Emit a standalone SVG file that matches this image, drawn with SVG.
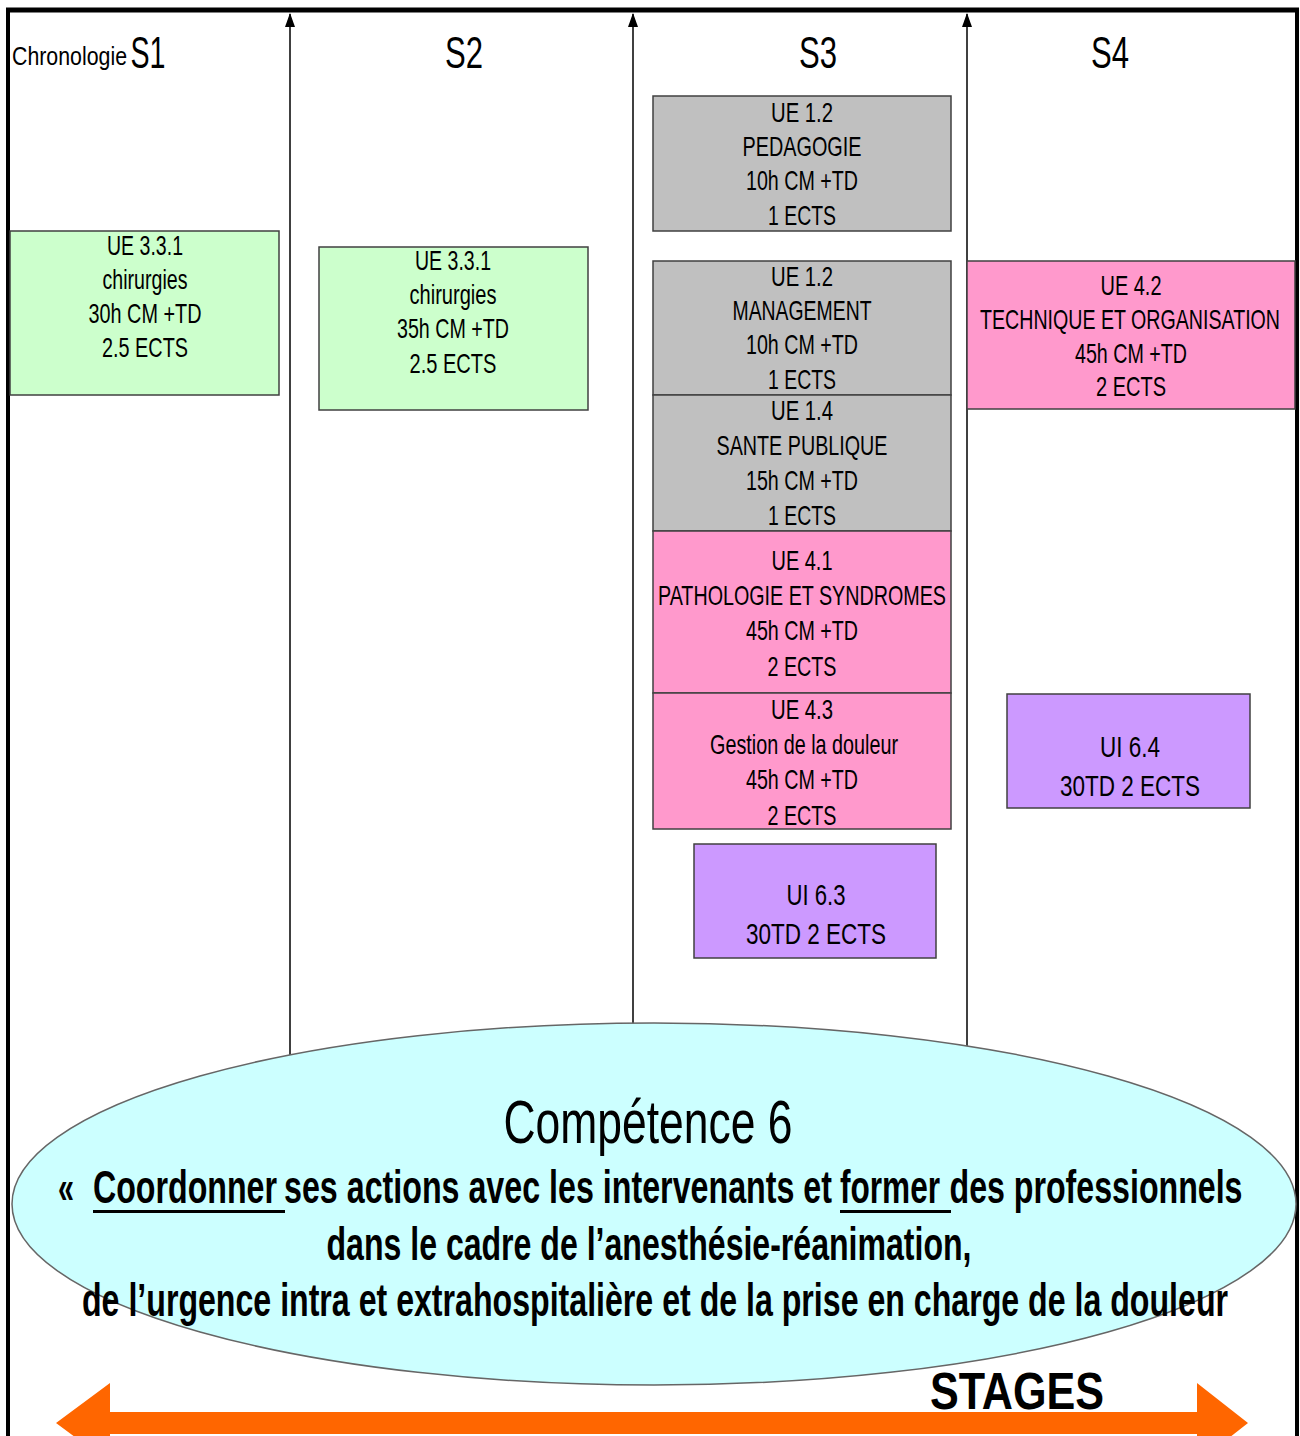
<svg xmlns="http://www.w3.org/2000/svg" width="1300" height="1436" viewBox="0 0 1300 1436">
<style>
text{font-family:"Liberation Sans",Arial,sans-serif;fill:#000;text-anchor:middle}
.b{stroke:#404040;stroke-width:1.5}
.g{fill:#ccffcc}.gr{fill:#c0c0c0}.p{fill:#ff99cc}.v{fill:#cc99ff}
.t{font-size:28px}
.h{font-size:44px}
.e{font-size:46px;font-weight:bold}
.axis{stroke:#000;stroke-width:1.5;fill:none}
</style>
<defs>
<marker id="ah" markerWidth="14" markerHeight="10" refX="13" refY="5" orient="auto" markerUnits="userSpaceOnUse" viewBox="0 0 14 10">
<path d="M0,0 L14,5 L0,10 Z" fill="#000"/>
</marker>
</defs>
<rect width="1300" height="1436" fill="#fff"/>
<g id="connectors">
<line class="axis" x1="290" y1="1250" x2="290" y2="14" marker-end="url(#ah)"/>
<line class="axis" x1="633" y1="1250" x2="633" y2="14" marker-end="url(#ah)"/>
<line class="axis" x1="967" y1="1250" x2="967" y2="14" marker-end="url(#ah)"/>
</g>
<g id="frame" fill="none" stroke="#000">
<line x1="6" y1="10" x2="1299" y2="10" stroke-width="5"/>
<line x1="8" y1="8" x2="8" y2="1436" stroke-width="4"/>
<line x1="1297" y1="8" x2="1297" y2="1436" stroke-width="4"/>
</g>
<g id="headers">
<text x="12" y="65" style="font-size:25px;text-anchor:start" textLength="115" lengthAdjust="spacingAndGlyphs">Chronologie</text>
<text x="148" y="68" class="h" textLength="35" lengthAdjust="spacingAndGlyphs">S1</text>
<text x="464" y="68" class="h" textLength="38" lengthAdjust="spacingAndGlyphs">S2</text>
<text x="818" y="68" class="h" textLength="38" lengthAdjust="spacingAndGlyphs">S3</text>
<text x="1110" y="68" class="h" textLength="38" lengthAdjust="spacingAndGlyphs">S4</text>
</g>
<g id="ue331-s1">
<rect class="b g" x="10" y="231" width="269" height="164"/>
<text class="t" x="145" y="255" textLength="76" lengthAdjust="spacingAndGlyphs">UE 3.3.1</text>
<text class="t" x="145" y="289" textLength="85" lengthAdjust="spacingAndGlyphs">chirurgies</text>
<text class="t" x="145" y="323" textLength="113" lengthAdjust="spacingAndGlyphs">30h CM +TD</text>
<text class="t" x="145" y="357" textLength="86" lengthAdjust="spacingAndGlyphs">2.5 ECTS</text>
</g>
<g id="ue331-s2">
<rect class="b g" x="319" y="247" width="269" height="163"/>
<text class="t" x="453" y="270" textLength="76" lengthAdjust="spacingAndGlyphs">UE 3.3.1</text>
<text class="t" x="453" y="304" textLength="87" lengthAdjust="spacingAndGlyphs">chirurgies</text>
<text class="t" x="453" y="338" textLength="112" lengthAdjust="spacingAndGlyphs">35h CM +TD</text>
<text class="t" x="453" y="373" textLength="87" lengthAdjust="spacingAndGlyphs">2.5 ECTS</text>
</g>
<g id="ue12-pedagogie">
<rect class="b gr" x="653" y="96" width="298" height="135"/>
<text class="t" x="802" y="122" textLength="62" lengthAdjust="spacingAndGlyphs">UE 1.2</text>
<text class="t" x="802" y="156" textLength="119" lengthAdjust="spacingAndGlyphs">PEDAGOGIE</text>
<text class="t" x="802" y="190" textLength="112" lengthAdjust="spacingAndGlyphs">10h CM +TD</text>
<text class="t" x="802" y="225" textLength="68" lengthAdjust="spacingAndGlyphs">1 ECTS</text>
</g>
<g id="ue12-management">
<rect class="b gr" x="653" y="261" width="298" height="134"/>
<text class="t" x="802" y="286" textLength="62" lengthAdjust="spacingAndGlyphs">UE 1.2</text>
<text class="t" x="802" y="320" textLength="139" lengthAdjust="spacingAndGlyphs">MANAGEMENT</text>
<text class="t" x="802" y="354" textLength="112" lengthAdjust="spacingAndGlyphs">10h CM +TD</text>
<text class="t" x="802" y="389" textLength="68" lengthAdjust="spacingAndGlyphs">1 ECTS</text>
</g>
<g id="ue14-sante">
<rect class="b gr" x="653" y="395" width="298" height="136"/>
<text class="t" x="802" y="420" textLength="62" lengthAdjust="spacingAndGlyphs">UE 1.4</text>
<text class="t" x="802" y="455" textLength="171" lengthAdjust="spacingAndGlyphs">SANTE PUBLIQUE</text>
<text class="t" x="802" y="490" textLength="112" lengthAdjust="spacingAndGlyphs">15h CM +TD</text>
<text class="t" x="802" y="525" textLength="68" lengthAdjust="spacingAndGlyphs">1 ECTS</text>
</g>
<g id="ue41-pathologie">
<rect class="b p" x="653" y="531" width="298" height="162"/>
<text class="t" x="802" y="570" textLength="61" lengthAdjust="spacingAndGlyphs">UE 4.1</text>
<text class="t" x="802" y="605" textLength="288" lengthAdjust="spacingAndGlyphs">PATHOLOGIE ET SYNDROMES</text>
<text class="t" x="802" y="640" textLength="112" lengthAdjust="spacingAndGlyphs">45h CM +TD</text>
<text class="t" x="802" y="676" textLength="69" lengthAdjust="spacingAndGlyphs">2 ECTS</text>
</g>
<g id="ue43-douleur">
<rect class="b p" x="653" y="693" width="298" height="136"/>
<text class="t" x="802" y="719" textLength="62" lengthAdjust="spacingAndGlyphs">UE 4.3</text>
<text class="t" x="804" y="754" textLength="188" lengthAdjust="spacingAndGlyphs">Gestion de la douleur</text>
<text class="t" x="802" y="789" textLength="112" lengthAdjust="spacingAndGlyphs">45h CM +TD</text>
<text class="t" x="802" y="825" textLength="69" lengthAdjust="spacingAndGlyphs">2 ECTS</text>
</g>
<g id="ui63">
<rect class="b v" x="694" y="844" width="242" height="114"/>
<text class="t" x="816" y="905" style="font-size:30px" textLength="59" lengthAdjust="spacingAndGlyphs">UI 6.3</text>
<text class="t" x="816" y="944" style="font-size:30px" textLength="140" lengthAdjust="spacingAndGlyphs">30TD  2 ECTS</text>
</g>
<g id="ue42-technique">
<rect class="b p" x="967" y="261" width="328" height="148"/>
<text class="t" x="1131" y="295" textLength="61" lengthAdjust="spacingAndGlyphs">UE 4.2</text>
<text class="t" x="1130" y="329" textLength="300" lengthAdjust="spacingAndGlyphs">TECHNIQUE ET ORGANISATION</text>
<text class="t" x="1131" y="363" textLength="112" lengthAdjust="spacingAndGlyphs">45h CM +TD</text>
<text class="t" x="1131" y="396" textLength="70" lengthAdjust="spacingAndGlyphs">2 ECTS</text>
</g>
<g id="ui64">
<rect class="b v" x="1007" y="694" width="243" height="114"/>
<text class="t" x="1130" y="757" style="font-size:30px" textLength="60" lengthAdjust="spacingAndGlyphs">UI 6.4</text>
<text class="t" x="1130" y="796" style="font-size:30px" textLength="140" lengthAdjust="spacingAndGlyphs">30TD  2 ECTS</text>
</g>
<g id="competence6">
<ellipse cx="654" cy="1204" rx="642" ry="181" fill="#ccffff" stroke="#666" stroke-width="1.5"/>
<text x="648" y="1143" style="font-size:62px" textLength="289" lengthAdjust="spacingAndGlyphs">Compétence 6</text>
<text x="66" y="1203" class="e" textLength="16" lengthAdjust="spacingAndGlyphs">«</text>
<text x="185" y="1203" class="e" textLength="184" lengthAdjust="spacingAndGlyphs">Coordonner</text>
<rect x="93" y="1210" width="192" height="3" fill="#000"/>
<text x="558" y="1203" class="e" textLength="548" lengthAdjust="spacingAndGlyphs">ses actions avec les intervenants et</text>
<text x="890" y="1203" class="e" textLength="100" lengthAdjust="spacingAndGlyphs">former</text>
<rect x="840" y="1210" width="111" height="3" fill="#000"/>
<text x="1096" y="1203" class="e" textLength="293" lengthAdjust="spacingAndGlyphs">des professionnels</text>
<text x="649" y="1260" class="e" textLength="645" lengthAdjust="spacingAndGlyphs">dans le cadre de l’anesthésie-réanimation,</text>
<text x="655" y="1316" class="e" textLength="1146" lengthAdjust="spacingAndGlyphs">de l’urgence intra et extrahospitalière et de la prise en charge de la douleur</text>
</g>
<g id="stages">
<polygon points="56,1423 110,1383 110,1412 1197,1412 1197,1383 1248,1423 1197,1463 1197,1434 110,1434 110,1463" fill="#ff6600"/>
<text x="1017" y="1409" style="font-size:52px;font-weight:bold" textLength="174" lengthAdjust="spacingAndGlyphs">STAGES</text>
</g>
</svg>
